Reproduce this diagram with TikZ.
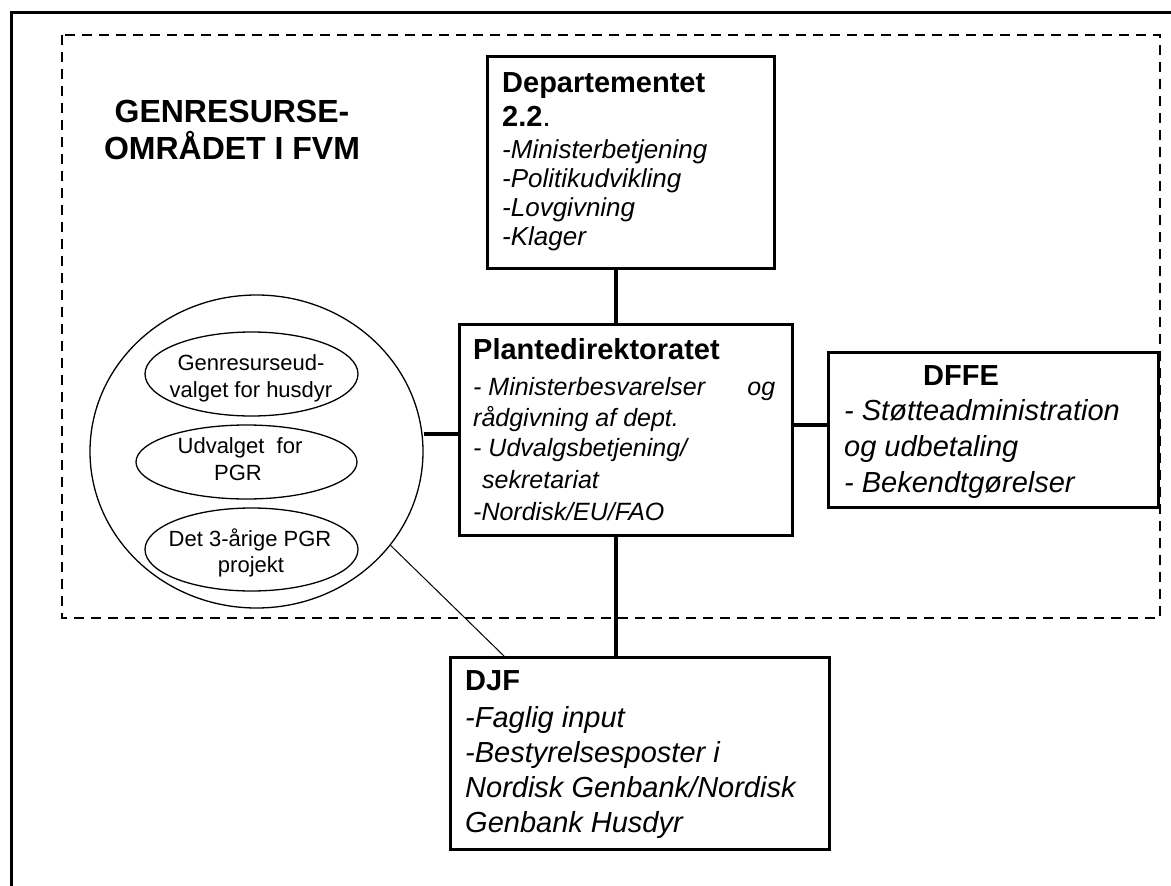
\documentclass[tikz,border=0pt]{standalone}
\usepackage{fontspec}
\setmainfont{Liberation Sans}
\usetikzlibrary{shapes.geometric}
\begin{document}
\begin{tikzpicture}[x=1bp,y=-1bp,
  box/.style={draw,line width=3bp,inner sep=0pt,anchor=north west},
  link/.style={line width=4bp},
  thinlink/.style={line width=1bp},
  oval/.style={draw,ellipse,line width=1.3bp,inner sep=0pt},
  ttl/.style={anchor=base west,inner sep=0pt,font=\fontsize{29bp}{33bp}\selectfont\bfseries},
  bttl/.style={anchor=base west,inner sep=0pt,font=\fontsize{29bp}{34bp}\selectfont\bfseries},
  ditm/.style={anchor=base west,inner sep=0pt,font=\fontsize{26bp}{30bp}\selectfont\itshape},
  pitm/.style={anchor=base west,inner sep=0pt,font=\fontsize{25bp}{30bp}\selectfont\itshape},
  bitm/.style={anchor=base west,inner sep=0pt,font=\fontsize{29bp}{34bp}\selectfont\itshape},
  otxt/.style={anchor=base,inner sep=0pt,font=\fontsize{22bp}{26bp}\selectfont},
  big/.style={anchor=base,inner sep=0pt,font=\fontsize{32bp}{36bp}\selectfont\bfseries},
  area/.style={line width=2.2bp,dash pattern=on 10bp off 7bp}
]
\useasboundingbox (0,0) rectangle (1171,886);
% outer frame (cropped)
\draw[line width=3bp] (11,900) -- (11,12) -- (1185,12);
% dashed area
\draw[area] (62,35) rectangle (1160,618);

% title
\node[big] (g1) at (232,122) {GENRESURSE-};
\node[big] (g2) at (232,159) {OMRÅDET I FVM};

% Departementet
\node[box,minimum width=287bp,minimum height=212bp] (dep) at (486,55) {};
\node[ttl] (dep1) at (502,92) {Departementet};
\node[ttl] (dep2) at (502,126) {2.2\mdseries.};
\node[ditm] (dep3) at (502,158) {-Ministerbetjening};
\node[ditm] (dep4) at (502,187) {-Politikudvikling};
\node[ditm] (dep5) at (502,216) {-Lovgivning};
\node[ditm] (dep6) at (502,245) {-Klager};

% Plantedirektoratet
\node[box,minimum width=333bp,minimum height=211bp] (plant) at (458,323) {};
\node[ttl] (pl1) at (473,359) {Plantedirektoratet};
\node[pitm] (pl2) at (473,395) {\makebox[302bp][l]{- Ministerbesvarelser\hfill og}};
\node[pitm] (pl3) at (473,426) {rådgivning af dept.};
\node[pitm] (pl4) at (473,456) {- Udvalgsbetjening/};
\node[pitm] (pl5) at (482,488) {sekretariat};
\node[pitm] (pl6) at (473,520) {-Nordisk/EU/FAO};

% DFFE
\node[box,minimum width=330bp,minimum height=155bp] (dffe) at (827,351) {};
\node[bttl] (df1) at (923,385) {DFFE};
\node[bitm] (df2) at (844,420) {- Støtteadministration};
\node[bitm] (df3) at (844,456) {og udbetaling};
\node[bitm] (df4) at (844,492) {- Bekendtgørelser};

% DJF
\node[box,minimum width=379bp,minimum height=192bp] (djf) at (449,656) {};
\node[bttl] (dj1) at (465,690) {DJF};
\node[bitm] (dj2) at (465,727) {-Faglig input};
\node[bitm] (dj3) at (465,762) {-Bestyrelsesposter i};
\node[bitm] (dj4) at (465,797) {Nordisk Genbank/Nordisk};
\node[bitm] (dj5) at (465,832) {Genbank Husdyr};

% group circle and ovals
\node[oval,minimum width=333bp,minimum height=313bp] (grp) at (256.5,451.5) {};
\node[oval,minimum width=213bp,minimum height=84bp] (e1) at (251.5,374) {};
\node[oval,minimum width=221bp,minimum height=74bp] (e2) at (246.5,462) {};
\node[oval,minimum width=213bp,minimum height=83bp] (e3) at (251.5,549.5) {};
\node[otxt] (e1a) at (251,370) {Genresurseud-};
\node[otxt] (e1b) at (251,397) {valget for husdyr};
\node[otxt] (e2a) at (240,453) {Udvalget\ \ for};
\node[otxt] (e2b) at (238,480) {PGR};
\node[otxt] (e3a) at (250,546) {Det 3-årige PGR};
\node[otxt] (e3b) at (251,572) {projekt};

% connectors
\coordinate (cx) at (616,0);
\coordinate (ry) at (0,425);
\coordinate (ly) at (0,434);
\coordinate (dx) at (504,0);
\draw[link] (dep.south -| cx) -- (plant.north -| cx);
\draw[link] (plant.south -| cx) -- (djf.north -| cx);
\draw[link] (plant.east |- ry) -- (dffe.west |- ry);
\draw[link] (grp.east |- ly) -- (plant.west |- ly);
\draw[thinlink] (grp.-35) -- (djf.north -| dx);
\end{tikzpicture}
\end{document}
